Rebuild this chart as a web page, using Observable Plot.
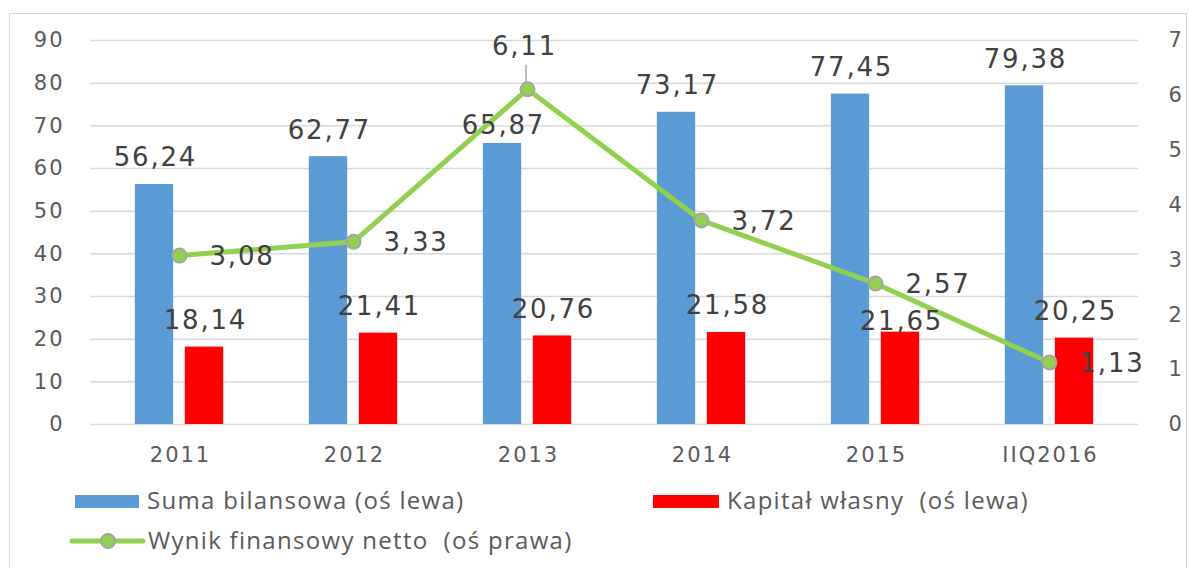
<!DOCTYPE html>
<html><head><meta charset="utf-8">
<script src="https://cdn.jsdelivr.net/npm/d3@7"></script>
<script src="https://cdn.jsdelivr.net/npm/@observablehq/plot@0.6"></script>
<style>
html,body{margin:0;padding:0;background:#fff;}
body{width:1189px;height:568px;overflow:hidden;position:relative;font-family:"DejaVu Sans",sans-serif;}
#frame{position:absolute;left:9px;top:13px;width:1178px;height:600px;border:1.5px solid #d9d9d9;box-sizing:border-box;}
#chart{position:absolute;left:0;top:0;}
#chart g[aria-label="text"] text{letter-spacing:1.8px;}
#chart g[aria-label$="tick label"] text{letter-spacing:2px;}
.leg{position:absolute;font-family:"Open Sans",sans-serif;font-size:24px;color:#595959;line-height:24px;white-space:pre;letter-spacing:1.3px;}
.sw{position:absolute;}
</style></head><body>
<div id="frame"></div>
<div id="chart"></div>
<div id="legend"></div>
<script>
// ---- data ----
const years = ["2011", "2012", "2013", "2014", "2015", "IIQ2016"];
const sumaBilansowa = [56.24, 62.77, 65.87, 73.17, 77.45, 79.38];
const kapitalWlasny = [18.14, 21.41, 20.76, 21.58, 21.65, 20.25];
const wynikNetto = [3.08, 3.33, 6.11, 3.72, 2.57, 1.13];
const leftTicks = [0, 10, 20, 30, 40, 50, 60, 70, 80, 90];
const rightTicks = [0, 1, 2, 3, 4, 5, 6, 7];
const seriesNames = ["Suma bilansowa (oś lewa)", "Kapitał własny  (oś lewa)", "Wynik finansowy netto  (oś prawa)"];
const colors = ["#5b9bd5", "#ff0000", "#92d050"];

// ---- derived ----
const leftMax = leftTicks[leftTicks.length - 1];
const rightMax = rightTicks[rightTicks.length - 1];
const k = leftMax / rightMax; // right-axis value -> left-axis units
const rows = years.map((y, i) => ({
  year: y, suma: sumaBilansowa[i], kap: kapitalWlasny[i], wynik: wynikNetto[i], wynikL: wynikNetto[i] * k
}));
const fmt = v => d3.format(".2f")(v).replace(".", ",");

const W = 1189, H = 470;
const mL = 90, mR = 51, mT = 40, mB = 46;
const bandW = (W - mL - mR) / years.length;
const barW = 39;
const inset = (bandW - barW) / 2;
const ppu = (H - mT - mB) / leftMax; // pixels per left unit
const font = "DejaVu Sans";
const axisColor = "#595959";
const labelColor = "#404040";

const chart = Plot.plot({
  width: W, height: H,
  marginTop: mT, marginBottom: mB, marginLeft: mL, marginRight: mR,
  style: {background: "transparent", overflow: "visible"},
  x: {type: "band", domain: years, padding: 0, axis: null, label: null},
  y: {domain: [0, leftMax], axis: null, label: null},
  marks: [
    Plot.gridY(leftTicks, {stroke: "#d9d9d9", strokeOpacity: 1, strokeWidth: 1.5}),
    Plot.axisY(leftTicks, {anchor: "left", tickSize: 0, tickPadding: 26, fontSize: 21, fill: axisColor, fontFamily: font, label: null}),
    Plot.axisY(rightTicks.map(v => v * k), {anchor: "right", tickSize: 0, tickPadding: 30, fontSize: 21, fill: axisColor, fontFamily: font, label: null,
      tickFormat: d => String(Math.round(d / k))}),
    Plot.axisX(years, {anchor: "bottom", tickSize: 0, tickPadding: 23, fontSize: 21, fill: axisColor, fontFamily: font, label: null, dx: 1}),
    Plot.barY(rows, {x: "year", y: "suma", fill: colors[0], insetLeft: inset, insetRight: inset, dx: -25}),
    Plot.barY(rows, {x: "year", y: "kap", fill: colors[1], insetLeft: inset, insetRight: inset, dx: 25}),
    Plot.line(rows, {x: "year", y: "wynikL", stroke: colors[2], strokeWidth: 5}),
    Plot.ruleX(rows.filter(d => d.year === "2013"), {x: "year", y1: d => d.wynikL + 6 / ppu, y2: d => d.wynikL + 24 / ppu, stroke: "#a6a6a6", strokeWidth: 1.5, dx: -1.5}),
    Plot.dot(rows, {x: "year", y: "wynikL", r: 7, fill: colors[2], stroke: "#a5a5a5", strokeWidth: 2}),
    // bar labels (blue)
    Plot.text(rows.filter(d => d.year !== "2013"), {x: "year", y: "suma", text: d => fmt(d.suma), dx: -24, dy: -26.5, fontSize: 26, fill: labelColor, fontFamily: font}),
    Plot.text(rows.filter(d => d.year === "2013"), {x: "year", y: "suma", text: d => fmt(d.suma), dx: -24, dy: -18, fontSize: 26, fill: labelColor, fontFamily: font}),
    // bar labels (red)
    Plot.text(rows.filter(d => d.year !== "2015"), {x: "year", y: "kap", text: d => fmt(d.kap), dx: 26, dy: -26.5, fontSize: 26, fill: labelColor, fontFamily: font}),
    Plot.text(rows.filter(d => d.year === "2015"), {x: "year", y: "kap", text: d => fmt(d.kap), dx: 26, dy: -10, fontSize: 26, fill: labelColor, fontFamily: font}),
    // line labels
    Plot.text(rows.filter(d => d.year !== "2013"), {x: "year", y: "wynikL", text: d => fmt(d.wynik), dx: 30, dy: 1, textAnchor: "start", fontSize: 26, fill: labelColor, fontFamily: font}),
    Plot.text(rows.filter(d => d.year === "2013"), {x: "year", y: "wynikL", text: d => fmt(d.wynik), dx: -3, dy: -43, fontSize: 26, fill: labelColor, fontFamily: font})
  ]
});
document.getElementById("chart").appendChild(chart);

// ---- legend (below the SVG plot area) ----
const leg = document.getElementById("legend");
leg.innerHTML = `
  <div class="sw" style="left:75px;top:495px;width:64px;height:13px;background:${colors[0]}"></div>
  <div class="leg" style="left:147px;top:488px">${seriesNames[0]}</div>
  <div class="sw" style="left:653px;top:495px;width:66px;height:13px;background:${colors[1]}"></div>
  <div class="leg" style="left:727px;top:488px">${seriesNames[1]}</div>
  <svg class="sw" style="left:68px;top:530px" width="80" height="22">
    <line x1="4" y1="11" x2="75" y2="11" stroke="${colors[2]}" stroke-width="5" stroke-linecap="round"/>
    <circle cx="40" cy="11" r="7" fill="${colors[2]}" stroke="#a5a5a5" stroke-width="2"/>
  </svg>
  <div class="leg" style="left:148px;top:528px">${seriesNames[2]}</div>
`;
</script>
</body></html>
